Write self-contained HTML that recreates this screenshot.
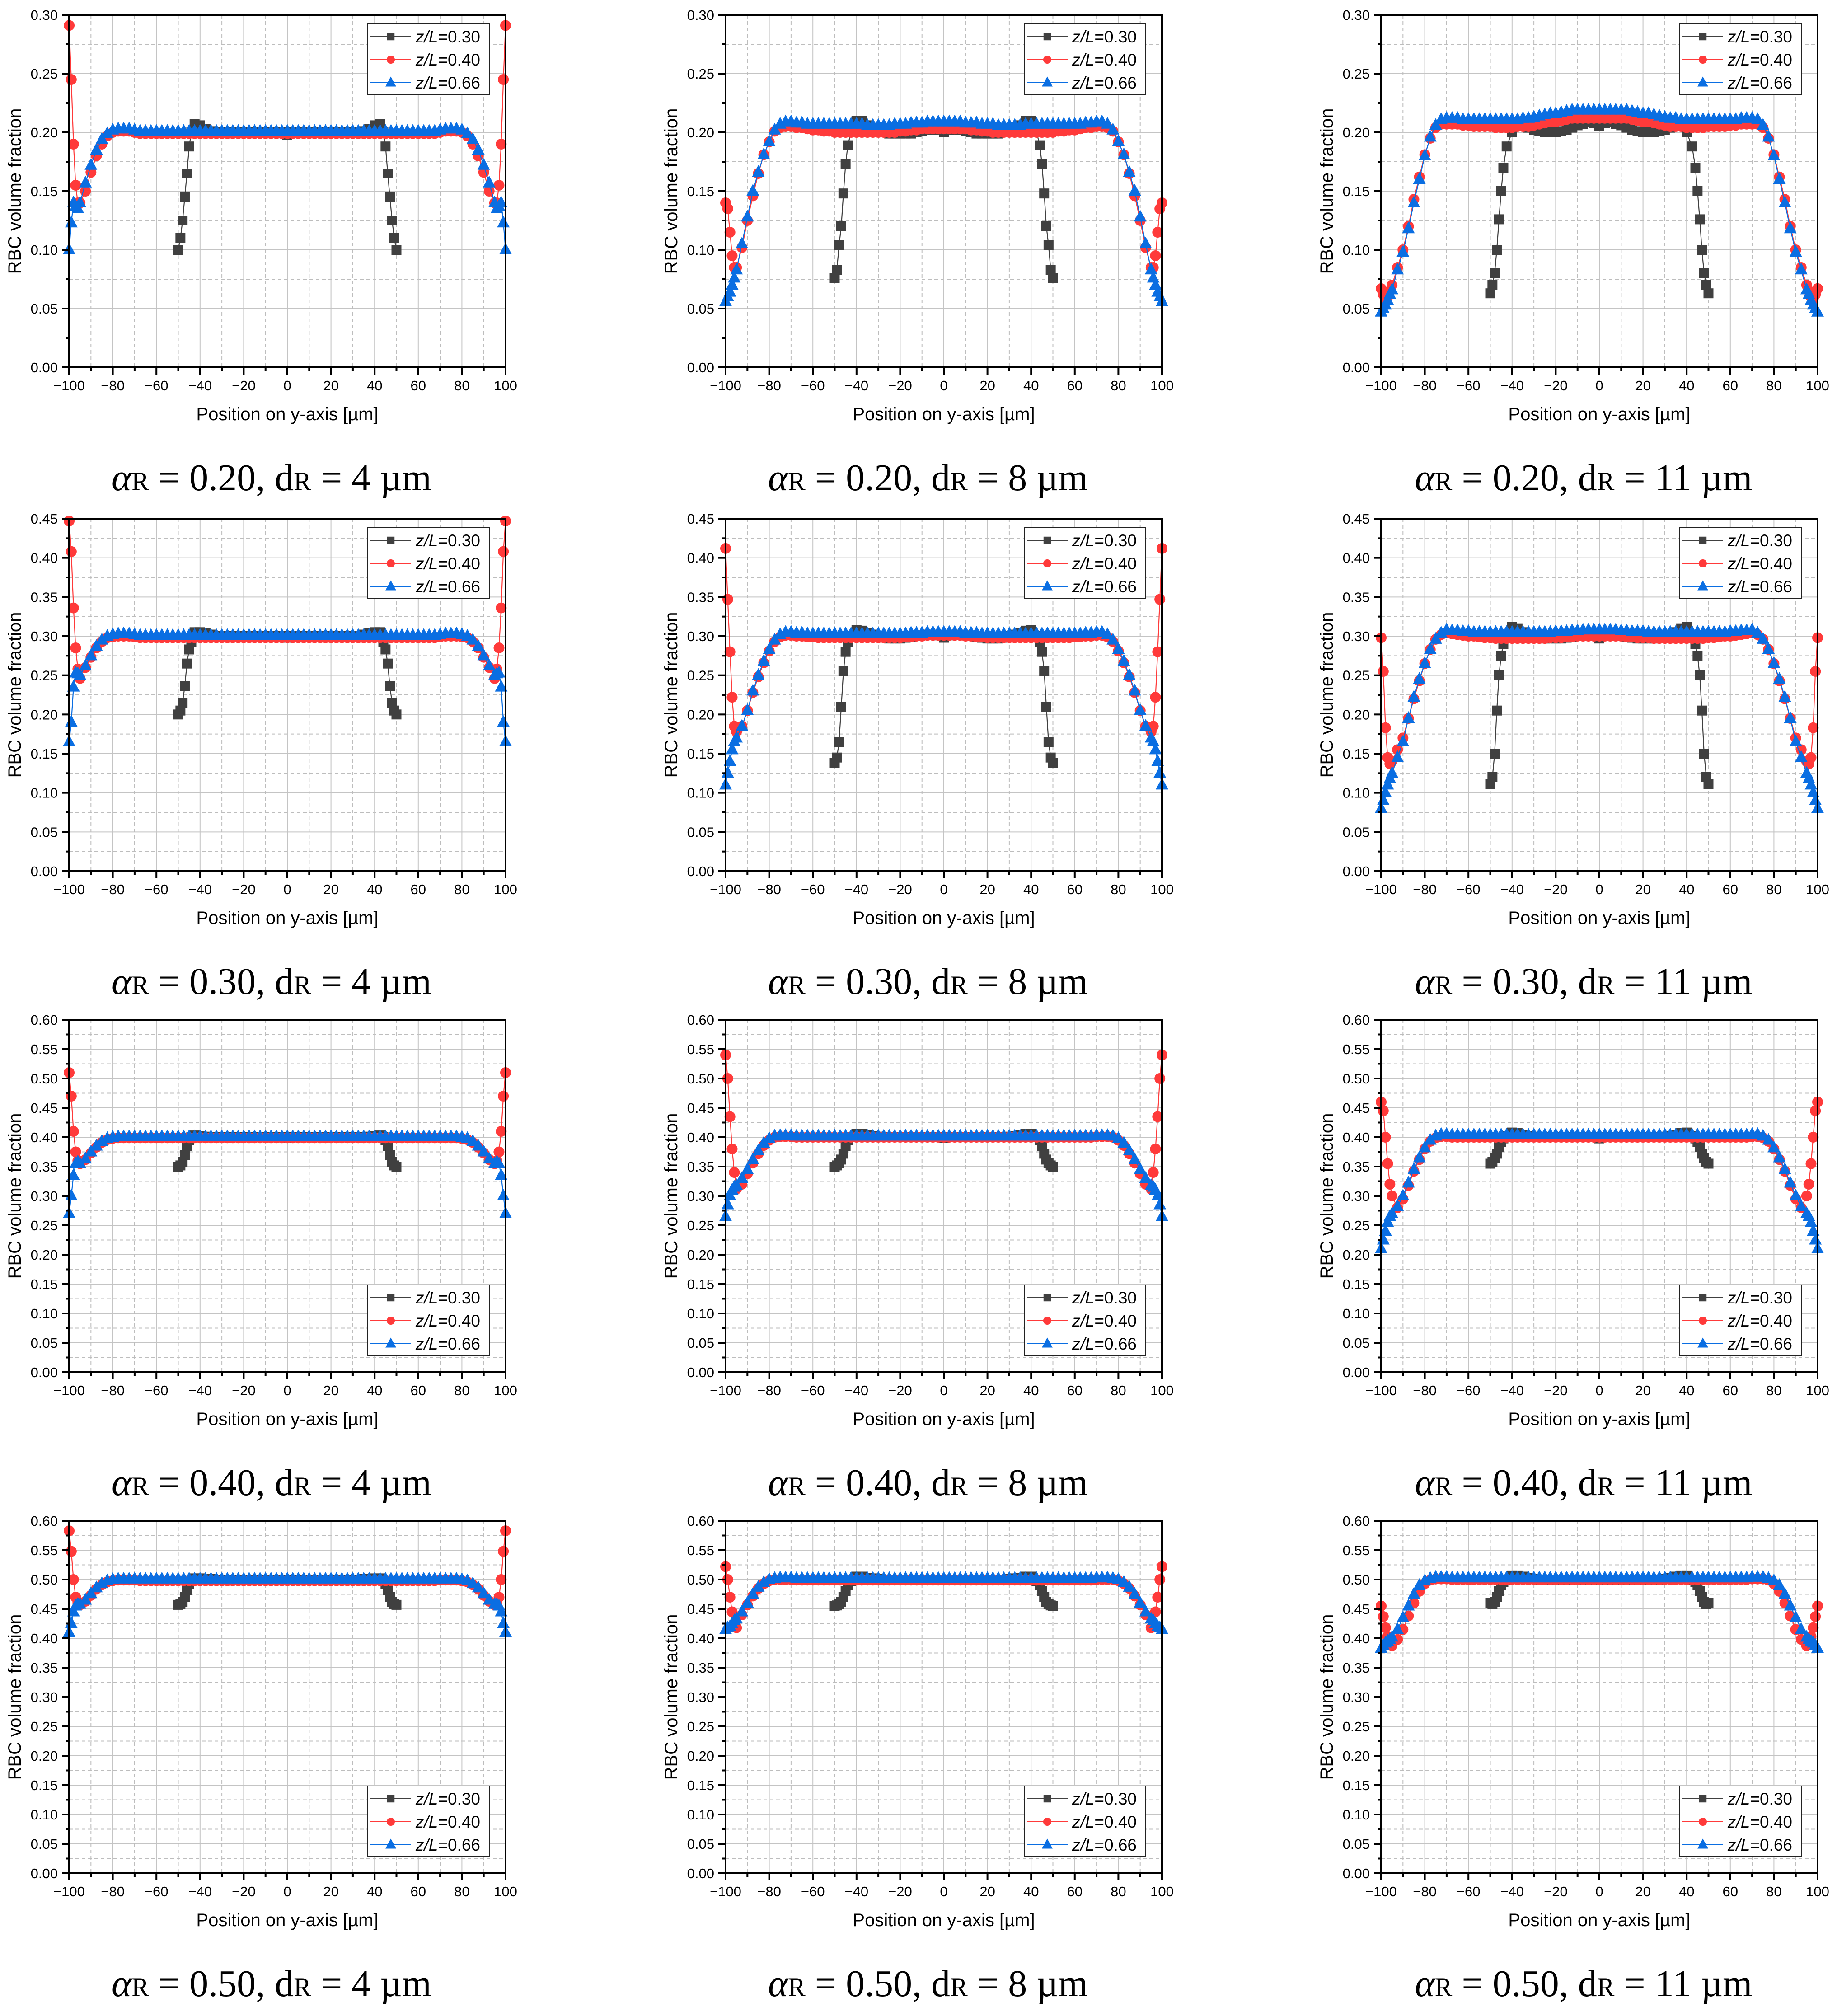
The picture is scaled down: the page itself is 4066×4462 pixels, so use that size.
<!DOCTYPE html>
<html><head><meta charset="utf-8"><title>RBC volume fraction panels</title>
<style>
html,body{margin:0;padding:0;background:#fff;}
svg{display:block;}
</style></head>
<body>
<svg id="fig" xmlns="http://www.w3.org/2000/svg" width="4066" height="4462" viewBox="0 0 4066 4462">
<rect width="4066" height="4462" fill="#fff"/>
</svg>
<script>
// ---------- shared x grids (µm) ----------
const xGrid = [-100,-99,-98,-97,-96,-95,-92.5,-90,-87.5,-85,-82.5,-80,-77.5,-75,-72.5,-70,-67.5,-65,-62.5,-60,-57.5,-55,-52.5,-50,-47.5,-45,-42.5,-40,-37.5,-35,-32.5,-30,-27.5,-25,-22.5,-20,-17.5,-15,-12.5,-10,-7.5,-5,-2.5,0,2.5,5,7.5,10,12.5,15,17.5,20,22.5,25,27.5,30,32.5,35,37.5,40,42.5,45,47.5,50,52.5,55,57.5,60,62.5,65,67.5,70,72.5,75,77.5,80,82.5,85,87.5,90,92.5,95,96,97,98,99,100];
const xBlack = [-50,-49,-48,-47,-46,-45,-44,-42.5,-40,-37.5,-35,-32.5,-30,-27.5,-25,-22.5,-20,-17.5,-15,-12.5,-10,-7.5,-5,-2.5,0,2.5,5,7.5,10,12.5,15,17.5,20,22.5,25,27.5,30,32.5,35,37.5,40,42.5,44,45,46,47,48,49,50];

// ---------- tick labels ----------
const xTickValues = [-100,-80,-60,-40,-20,0,20,40,60,80,100];
const xTickLabels = ["\u2212100","\u221280","\u221260","\u221240","\u221220","0","20","40","60","80","100"];
const yLabels30 = ["0.00","0.05","0.10","0.15","0.20","0.25","0.30"];
const yLabels45 = ["0.00","0.05","0.10","0.15","0.20","0.25","0.30","0.35","0.40","0.45"];
const yLabels60 = ["0.00","0.05","0.10","0.15","0.20","0.25","0.30","0.35","0.40","0.45","0.50","0.55","0.60"];
const legendLabels = ["0.30","0.40","0.66"];

// ---------- series values (x1000) ----------
const p1_blue = [100,123,140,137,135,140,157,172,185,194,199,202,203,203,203,202,201,201,201,201,201,201,201,201,201,201,201,201,201,201,201,201,201,201,201,201,201,201,201,201,201,201,201,201,201,201,201,201,201,201,201,201,201,201,201,201,201,201,201,201,201,201,201,201,201,201,201,201,201,201,201,202,203,203,203,202,199,194,185,172,157,140,135,137,140,123,100];
const p1_red = [291,245,190,155,140,140,150,166,180,190,197,200,201,201,201,200,199,199,199,199,199,199,199,199,199,199,199,199,199,199,199,199,199,199,199,199,199,199,199,199,199,199,199,199,199,199,199,199,199,199,199,199,199,199,199,199,199,199,199,199,199,199,199,199,199,199,199,199,199,199,199,200,201,201,201,200,197,190,180,166,150,140,140,155,190,245,291];
const p1_black = [100,110,125,145,165,188,200,207,206,203,201,200,200,200,200,200,200,200,200,200,200,200,200,200,198,200,200,200,200,200,200,200,200,200,200,200,200,200,201,203,206,207,200,188,165,145,125,110,100];

const p2_blue = [56,60,64,70,76,83,105,128,150,166,181,192,202,207,209,209,208,208,207,207,207,207,207,207,207,207,207,207,207,206,206,206,206,206,207,207,207,208,208,208,209,209,209,209,209,209,209,208,208,208,207,207,207,206,206,206,206,206,207,207,207,207,207,207,207,207,207,207,207,208,208,209,209,207,202,192,181,166,150,128,105,83,76,70,64,60,56];
const p2_red = [140,135,115,95,85,85,102,125,146,165,181,192,201,204,205,205,204,204,203,202,202,201,201,200,200,200,200,200,200,200,200,200,200,200,200,201,201,202,202,203,203,203,203,203,203,203,203,203,202,202,201,201,200,200,200,200,200,200,200,200,200,200,200,200,201,201,202,202,203,204,204,205,205,204,201,192,181,165,146,125,102,85,85,95,115,135,140];
const p2_black = [76,83,104,120,148,173,189,200,210,210,206,203,201,200,199,199,199,199,199,200,201,202,202,202,200,202,202,202,201,200,199,199,199,199,199,200,201,203,206,210,210,200,189,173,148,120,104,83,76];

const p3_blue = [47,50,53,57,62,66,83,98,118,140,160,180,196,206,211,212,212,212,211,211,211,211,211,211,211,211,211,211,211,212,212,213,214,215,216,216,217,218,219,219,219,219,219,219,219,219,219,219,219,218,217,216,216,215,214,213,212,212,211,211,211,211,211,211,211,211,211,211,211,212,212,212,211,206,196,180,160,140,118,98,83,66,62,57,53,50,47];
const p3_red = [67,62,58,60,65,70,85,100,120,143,162,181,195,204,207,207,207,207,206,206,205,205,205,205,204,204,204,204,205,205,205,206,207,208,209,209,210,211,212,212,212,212,212,212,212,212,212,212,212,211,210,209,209,208,207,206,205,205,205,204,204,204,204,205,205,205,205,206,206,207,207,207,207,204,195,181,162,143,120,100,85,70,65,60,58,62,67];
const p3_black = [63,70,80,100,126,150,170,188,200,207,206,204,202,201,200,200,200,201,202,204,206,207,209,208,205,208,209,207,206,204,202,201,200,200,200,201,202,204,206,207,200,188,170,150,126,100,80,70,63];

const p4_blue = [165,190,235,253,252,250,262,275,287,295,300,302,303,303,303,302,301,301,301,301,301,301,301,301,301,301,301,301,301,301,301,301,301,301,301,301,301,301,301,301,301,301,301,301,301,301,301,301,301,301,301,301,301,301,301,301,301,301,301,301,301,301,301,301,301,301,301,301,301,301,301,302,303,303,303,302,300,295,287,275,262,250,252,253,235,190,165];
const p4_red = [447,408,336,285,258,246,260,273,285,293,298,299,300,300,300,299,298,298,298,298,298,298,298,298,298,298,298,298,298,298,298,298,298,298,298,298,298,298,298,298,298,298,298,298,298,298,298,298,298,298,298,298,298,298,298,298,298,298,298,298,298,298,298,298,298,298,298,298,298,298,298,299,300,300,300,299,298,293,285,273,260,246,258,285,336,408,447];
const p4_black = [200,205,215,236,265,283,292,305,305,304,302,300,300,300,300,300,300,300,300,300,300,300,300,300,298,300,300,300,300,300,300,300,300,300,300,300,300,300,302,304,305,305,292,283,265,236,215,205,200];

const p5_blue = [110,125,140,155,165,170,185,205,230,250,268,283,295,302,305,305,304,304,303,303,303,303,303,303,303,303,303,303,303,303,303,303,303,303,303,303,303,304,304,304,305,305,305,305,305,305,305,304,304,304,303,303,303,303,303,303,303,303,303,303,303,303,303,303,303,303,303,303,303,304,304,305,305,302,295,283,268,250,230,205,185,170,165,155,140,125,110];
const p5_red = [412,347,280,222,185,178,185,205,228,248,266,281,293,299,301,301,300,300,299,299,298,298,298,298,298,298,298,298,298,298,298,298,298,298,298,298,299,299,300,300,301,301,301,301,301,301,301,300,300,299,299,298,298,298,298,298,298,298,298,298,298,298,298,298,298,298,298,299,299,300,300,301,301,299,293,281,266,248,228,205,185,178,185,222,280,347,412];
const p5_black = [138,145,165,210,255,280,293,300,308,307,304,302,300,298,297,297,297,298,299,300,301,302,302,301,298,301,302,302,301,300,299,298,297,297,297,298,300,302,304,307,308,300,293,280,255,210,165,145,138];

const p6_blue = [80,90,100,110,118,125,145,165,195,222,245,265,283,296,304,308,307,307,306,306,305,305,305,305,305,305,305,305,305,305,305,305,305,305,305,306,306,306,307,307,308,308,308,308,308,308,308,307,307,306,306,306,305,305,305,305,305,305,305,305,305,305,305,305,305,305,305,306,306,307,307,308,304,296,283,265,245,222,195,165,145,125,118,110,100,90,80];
const p6_red = [298,255,183,145,137,140,155,170,195,220,243,265,283,296,302,304,303,302,301,300,300,299,298,298,297,297,297,297,297,297,297,297,297,297,298,298,298,299,299,300,300,300,300,300,300,300,300,300,299,299,298,298,298,297,297,297,297,297,297,297,297,297,297,298,298,299,300,300,301,302,303,304,302,296,283,265,243,220,195,170,155,140,137,145,183,255,298];
const p6_black = [111,120,150,205,250,275,290,300,312,310,305,302,299,298,297,297,297,297,298,299,300,300,300,300,297,300,300,300,300,299,298,297,297,297,297,298,299,302,305,310,312,300,290,275,250,205,150,120,111];

const p7_blue = [270,300,335,355,358,355,363,375,385,393,398,400,401,401,401,401,401,401,401,401,401,401,401,401,401,401,401,401,401,401,401,401,401,401,401,401,401,401,401,401,401,401,401,401,401,401,401,401,401,401,401,401,401,401,401,401,401,401,401,401,401,401,401,401,401,401,401,401,401,401,401,401,401,401,401,400,398,393,385,375,363,355,358,355,335,300,270];
const p7_red = [510,470,410,375,360,355,362,373,383,391,396,398,399,399,399,399,399,399,399,399,399,399,399,399,399,399,399,399,399,399,399,399,399,399,399,399,399,399,399,399,399,399,399,399,399,399,399,399,399,399,399,399,399,399,399,399,399,399,399,399,399,399,399,399,399,399,399,399,399,399,399,399,399,399,399,398,396,391,383,373,362,355,360,375,410,470,510];
const p7_black = [350,352,358,370,385,395,400,403,402,401,400,400,400,400,400,400,400,400,400,400,400,400,400,400,399,400,400,400,400,400,400,400,400,400,400,400,400,400,400,401,402,403,400,395,385,370,358,352,350];

const p8_blue = [265,285,300,310,315,318,330,345,362,377,390,398,402,403,403,403,402,402,402,402,402,402,402,402,402,402,402,402,402,402,402,402,402,402,402,402,402,402,402,402,402,402,402,402,402,402,402,402,402,402,402,402,402,402,402,402,402,402,402,402,402,402,402,402,402,402,402,402,402,402,402,403,403,403,402,398,390,377,362,345,330,318,315,310,300,285,265];
const p8_red = [540,500,435,380,340,312,320,338,356,372,386,395,400,401,401,401,400,400,400,400,400,400,400,400,400,400,400,400,400,400,400,400,400,400,400,400,400,400,400,400,400,400,400,400,400,400,400,400,400,400,400,400,400,400,400,400,400,400,400,400,400,400,400,400,400,400,400,400,400,400,400,401,401,401,400,395,386,372,356,338,320,312,340,380,435,500,540];
const p8_black = [350,352,356,362,372,385,395,400,406,406,404,402,401,400,400,400,400,400,400,400,400,400,400,400,399,400,400,400,400,400,400,400,400,400,400,400,401,402,404,406,406,400,395,385,372,362,356,352,350];

const p9_blue = [210,225,240,255,265,270,282,300,322,345,365,382,395,402,405,405,404,404,404,404,404,404,404,404,404,404,404,404,404,404,404,404,404,404,404,404,404,404,404,404,404,404,404,404,404,404,404,404,404,404,404,404,404,404,404,404,404,404,404,404,404,404,404,404,404,404,404,404,404,404,404,405,405,402,395,382,365,345,322,300,282,270,265,255,240,225,210];
const p9_red = [460,445,400,355,320,300,280,295,318,342,362,380,393,399,401,401,400,400,400,400,400,400,400,400,400,400,400,400,400,400,400,400,400,400,400,400,400,400,400,400,400,400,400,400,400,400,400,400,400,400,400,400,400,400,400,400,400,400,400,400,400,400,400,400,400,400,400,400,400,400,400,401,401,399,393,380,362,342,318,295,280,300,320,355,400,445,460];
const p9_black = [355,358,364,372,383,392,398,402,408,407,404,402,401,400,400,400,400,400,400,400,400,400,400,400,398,400,400,400,400,400,400,400,400,400,400,400,401,402,404,407,408,402,398,392,383,372,364,358,355];

const p10_blue = [410,425,445,455,458,458,465,476,486,493,498,500,501,501,501,501,501,501,501,501,501,501,501,501,501,501,501,501,501,501,501,501,501,501,501,501,501,501,501,501,501,501,501,501,501,501,501,501,501,501,501,501,501,501,501,501,501,501,501,501,501,501,501,501,501,501,501,501,501,501,501,501,501,501,501,500,498,493,486,476,465,458,458,455,445,425,410];
const p10_red = [583,548,500,470,460,457,463,473,484,491,496,498,499,499,499,499,498,498,498,498,498,498,498,498,498,498,498,498,498,498,498,498,498,498,498,498,498,498,498,498,498,498,498,498,498,498,498,498,498,498,498,498,498,498,498,498,498,498,498,498,498,498,498,498,498,498,498,498,498,498,498,499,499,499,499,498,496,491,484,473,463,457,460,470,500,548,583];
const p10_black = [457,458,462,470,482,492,498,502,502,501,501,500,500,500,500,500,500,500,500,500,500,500,500,500,499,500,500,500,500,500,500,500,500,500,500,500,500,500,501,501,502,502,498,492,482,470,462,458,457];

const p11_blue = [415,418,420,425,430,433,445,460,475,487,495,500,502,503,503,503,502,502,502,502,502,502,502,502,502,502,502,502,502,502,502,502,502,502,502,502,502,502,502,502,502,502,502,502,502,502,502,502,502,502,502,502,502,502,502,502,502,502,502,502,502,502,502,502,502,502,502,502,502,502,502,503,503,503,502,500,495,487,475,460,445,433,430,425,420,418,415];
const p11_red = [522,500,470,445,425,418,440,457,472,485,493,498,500,500,500,500,499,499,499,499,499,499,499,499,499,499,499,499,499,499,499,499,499,499,499,499,499,499,499,499,499,499,499,499,499,499,499,499,499,499,499,499,499,499,499,499,499,499,499,499,499,499,499,499,499,499,499,499,499,499,499,500,500,500,500,498,493,485,472,457,440,418,425,445,470,500,522];
const p11_black = [455,456,458,462,470,480,490,497,505,505,503,502,501,500,500,500,500,500,500,500,500,500,500,500,499,500,500,500,500,500,500,500,500,500,500,500,501,502,503,505,505,497,490,480,470,462,458,456,455];

const p12_blue = [383,388,392,395,398,402,415,435,455,475,490,498,502,504,504,504,503,503,503,503,503,503,503,503,503,503,503,503,503,503,503,503,503,503,503,503,503,503,503,503,503,503,503,503,503,503,503,503,503,503,503,503,503,503,503,503,503,503,503,503,503,503,503,503,503,503,503,503,503,503,503,504,504,504,502,498,490,475,455,435,415,402,398,395,392,388,383];
const p12_red = [455,437,418,403,392,387,398,415,438,460,480,493,499,501,501,501,500,500,500,500,500,500,500,500,500,500,500,500,500,500,500,500,500,500,500,500,500,500,500,500,500,500,500,500,500,500,500,500,500,500,500,500,500,500,500,500,500,500,500,500,500,500,500,500,500,500,500,500,500,500,500,501,501,501,499,493,480,460,438,415,398,387,392,403,418,437,455];
const p12_black = [460,458,462,470,480,490,496,500,507,507,505,503,501,500,500,500,500,500,500,500,500,500,500,500,499,500,500,500,500,500,500,500,500,500,500,500,501,503,505,507,507,500,496,490,480,470,462,458,460];

const alphaLabels = ["0.20","0.30","0.40","0.50"];
const dLabels = ["4","8","11"];

// ---------- layout ----------
const NS = "http://www.w3.org/2000/svg";
const svg = document.getElementById("fig");
const PW = 966, PH = 780;
const colLeft = [153, 1606, 3057];
const rowTop = [33, 1148, 2257, 3366];
const panels = [
 {r:0,c:0,yl:yLabels30,leg:"top",blue:p1_blue,red:p1_red,black:p1_black},
 {r:0,c:1,yl:yLabels30,leg:"top",blue:p2_blue,red:p2_red,black:p2_black},
 {r:0,c:2,yl:yLabels30,leg:"top",blue:p3_blue,red:p3_red,black:p3_black},
 {r:1,c:0,yl:yLabels45,leg:"top",blue:p4_blue,red:p4_red,black:p4_black},
 {r:1,c:1,yl:yLabels45,leg:"top",blue:p5_blue,red:p5_red,black:p5_black},
 {r:1,c:2,yl:yLabels45,leg:"top",blue:p6_blue,red:p6_red,black:p6_black},
 {r:2,c:0,yl:yLabels60,leg:"bottom",blue:p7_blue,red:p7_red,black:p7_black},
 {r:2,c:1,yl:yLabels60,leg:"bottom",blue:p8_blue,red:p8_red,black:p8_black},
 {r:2,c:2,yl:yLabels60,leg:"bottom",blue:p9_blue,red:p9_red,black:p9_black},
 {r:3,c:0,yl:yLabels60,leg:"bottom",blue:p10_blue,red:p10_red,black:p10_black},
 {r:3,c:1,yl:yLabels60,leg:"bottom",blue:p11_blue,red:p11_red,black:p11_black},
 {r:3,c:2,yl:yLabels60,leg:"bottom",blue:p12_blue,red:p12_red,black:p12_black}
];
const COL = {black:"#404040", red:"#ff3a3a", blue:"#0a6ee2"};

function mk(tag, attrs, parent){
  const e = document.createElementNS(NS, tag);
  for (const k in attrs) e.setAttribute(k, attrs[k]);
  parent.appendChild(e);
  return e;
}
function marker(kind, cx, cy, parent, size){
  let m;
  const s = size || 1;
  if (kind === "black"){
    m = mk("rect",{x:cx-11*s,y:cy-11*s,width:22*s,height:22*s,fill:COL.black},parent);
  } else if (kind === "red"){
    m = mk("circle",{cx:cx,cy:cy,r:12*s,fill:COL.red},parent);
  } else {
    m = mk("polygon",{points:`${cx},${cy-16*s} ${cx-14*s},${cy+10*s} ${cx+14*s},${cy+10*s}`,fill:COL.blue},parent);
  }
  return m;
}

panels.forEach((p, idx) => {
  const L = colLeft[p.c], T = rowTop[p.r], B = T + PH, R = L + PW;
  const ymax = parseFloat(p.yl[p.yl.length-1]);
  const xs = v => L + (v + 100) / 200 * PW;
  const ys = v => B - v / ymax * PH;
  const g = mk("g",{},svg);
  
  

  const grid = mk("g",{},g);
  
  
  const nMinorY = (p.yl.length-1)*2;
  for (let i=1;i<nMinorY;i++){
    const v = ymax*i/nMinorY, yy = ys(v);
    const major = i%2===0;
    const ln = mk("line",{x1:L,x2:R,y1:yy,y2:yy,stroke:major?"#c4c4c4":"#bdbdbd","stroke-width":2,"stroke-dasharray":major?"none":"8,6"},grid);
    
    
  }
  for (let v=-90; v<100; v+=10){
    const xx = xs(v), major = v%20===0;
    const ln = mk("line",{x1:xx,x2:xx,y1:T,y2:B,stroke:major?"#c4c4c4":"#bdbdbd","stroke-width":2,"stroke-dasharray":major?"none":"8,6"},grid);
    
    
  }

  const series = [["black",p.black,xBlack,"z-l-0-30"],["red",p.red,xGrid,"z-l-0-40"],["blue",p.blue,xGrid,"z-l-0-66"]];
  series.forEach(([kind, vals, xv, nm]) => {
    const sg = mk("g",{},g);
    
    
    const pts = vals.map((v,i)=> xs(xv[i]).toFixed(1)+","+ys(v/1000).toFixed(1)).join(" ");
    const pl = mk("polyline",{points:pts,fill:"none",stroke:COL[kind],"stroke-width":2.2},sg);
    
    
    vals.forEach((v,i)=>{
      const m = marker(kind, xs(xv[i]), ys(v/1000), sg);
      
      
    });
  });

  const fr = mk("rect",{x:L,y:T,width:PW,height:PH,fill:"none",stroke:"#000","stroke-width":4},g);
  
  

  for (let i=0;i<=nMinorY;i++){
    const yy = ys(ymax*i/nMinorY), major = i%2===0;
    const tk = mk("line",{x1:L-(major?16:8),x2:L,y1:yy,y2:yy,stroke:"#000","stroke-width":4},g);
    
    
    if (major){
      const t = mk("text",{x:L-25,y:yy+11,"text-anchor":"end","font-family":"Liberation Sans, sans-serif","font-size":31,fill:"#000"},g);
      t.textContent = p.yl[i/2];
      
      
    }
  }
  for (let v=-100; v<=100; v+=10){
    const xx = xs(v), major = v%20===0;
    const tk = mk("line",{x1:xx,x2:xx,y1:B,y2:B+(major?16:8),stroke:"#000","stroke-width":4},g);
    
    
  }
  xTickValues.forEach((v,i)=>{
    const t = mk("text",{x:xs(v),y:B+51,"text-anchor":"middle","font-family":"Liberation Sans, sans-serif","font-size":31,fill:"#000"},g);
    t.textContent = xTickLabels[i];
    
    
  });

  const xt = mk("text",{x:L+PW/2,y:B+117,"text-anchor":"middle","font-family":"Liberation Sans, sans-serif","font-size":40,fill:"#000"},g);
  xt.textContent = "Position on y-axis [\u00b5m]";
  
  
  const yx = L-107, yy0 = T+PH/2;
  const yt = mk("text",{x:yx,y:yy0,"text-anchor":"middle","font-family":"Liberation Sans, sans-serif","font-size":40,fill:"#000",transform:`rotate(-90 ${yx} ${yy0})`},g);
  yt.textContent = "RBC volume fraction";
  
  

  const lw = 269, lh = 156;
  const lx = R - 36 - lw;
  const ly = p.leg === "top" ? T + 20 : B - 37 - lh;
  const lg = mk("g",{},g);
  
  
  const lb = mk("rect",{x:lx,y:ly,width:lw,height:lh,fill:"#fff",stroke:"#222","stroke-width":2},lg);
  
  
  ["black","red","blue"].forEach((kind,i)=>{
    const cy = ly + 28 + i*51;
    const eg = mk("g",{},lg);
    
    
    mk("line",{x1:lx+6,x2:lx+96,y1:cy,y2:cy,stroke:COL[kind],"stroke-width":2},eg);
    marker(kind, lx+51, cy, eg, kind==="blue"?0.85:0.75);
    const t = mk("text",{x:lx+106,y:cy+13,"font-family":"Liberation Sans, sans-serif","font-size":37,fill:"#000"},eg);
    const it = mk("tspan",{"font-style":"italic"},t); it.textContent = "z/L";
    const rest = mk("tspan",{},t); rest.textContent = "=" + legendLabels[i];
  });

  const cap = mk("text",{x:L+PW/2-35,y:B+272,"text-anchor":"middle","font-family":"Liberation Serif, serif","font-size":84,fill:"#000"},g);
  
  
  const a1 = mk("tspan",{"font-style":"italic"},cap); a1.textContent = "\u03b1";
  const r1 = mk("tspan",{"font-size":58},cap); r1.textContent = "R";
  const m1 = mk("tspan",{},cap); m1.textContent = " = " + alphaLabels[p.r] + ", d";
  const r2 = mk("tspan",{"font-size":58},cap); r2.textContent = "R";
  const m2 = mk("tspan",{},cap); m2.textContent = " = " + dLabels[p.c] + " \u00b5m";
});
</script>
</body></html>
